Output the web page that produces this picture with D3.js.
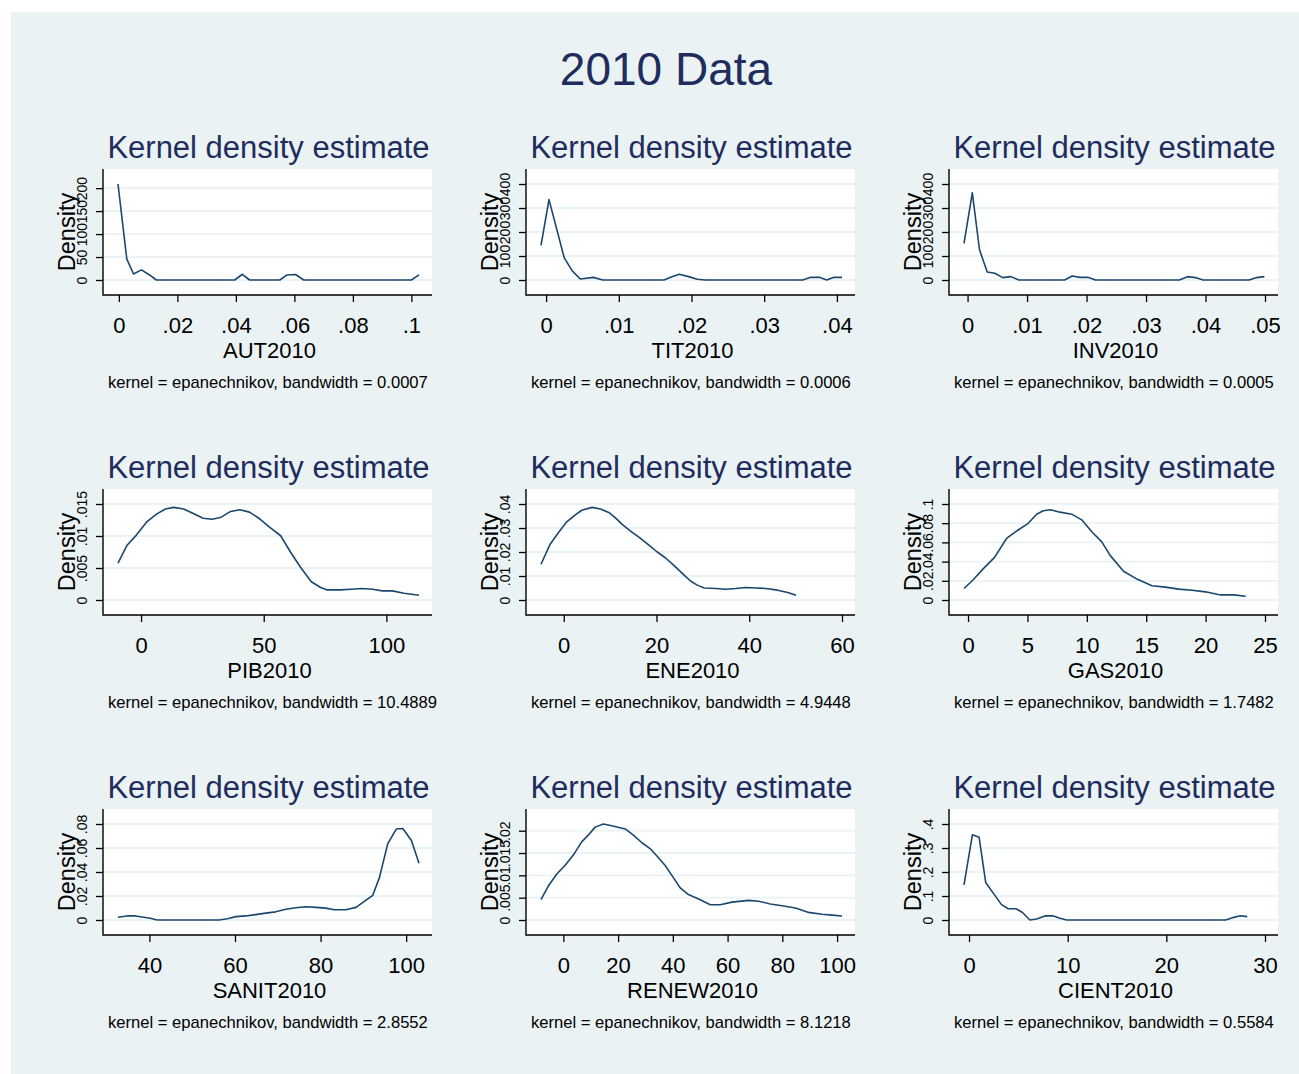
<!DOCTYPE html>
<html>
<head>
<meta charset="utf-8">
<script src="https://cdn.jsdelivr.net/npm/d3@7"></script>
<style>
  body { margin: 0; background: #fff; }
  svg { display: block; font-family: "Liberation Sans", Arial, Helvetica, sans-serif; }
</style>
</head>
<body>
<svg width="1299" height="1074"></svg>
<script>
// kernel density curves: [x, density]
const AUT2010 = [[-0.0003, 209], [0.0027, 46], [0.005, 13], [0.0077, 22], [0.0105, 11], [0.0128, 0],
  [0.0396, 0], [0.0422, 12.5], [0.0447, 0], [0.055, 0], [0.0575, 11], [0.0604, 12], [0.0632, 0],
  [0.1, 0], [0.1026, 11]];
const TIT2010 = [[-0.0007, 144], [0.0004, 335], [0.0025, 92], [0.0036, 38], [0.0047, 4], [0.0065, 11],
  [0.0078, 0], [0.0162, 0], [0.0173, 14], [0.0183, 24], [0.0196, 14], [0.0208, 3], [0.0219, 0],
  [0.0353, 0], [0.0364, 11], [0.0376, 11], [0.0386, 0], [0.0396, 11], [0.0407, 11]];
const INV2010 = [[-0.0006, 153], [0.0008, 363], [0.002, 127], [0.0033, 33], [0.0046, 28], [0.0059, 10],
  [0.0073, 14], [0.0086, 0], [0.0163, 0], [0.0176, 17], [0.0189, 11], [0.0202, 11], [0.0215, 0],
  [0.0356, 0], [0.037, 14], [0.0383, 10], [0.0396, 0], [0.0473, 0], [0.0486, 10], [0.0499, 14]];
const PIB2010 = [[-9.4, 0.00576], [-5.7, 0.00856], [-1.9, 0.01014], [2.2, 0.01215], [6.3, 0.01342],
  [9.9, 0.01421], [13.3, 0.01447], [17.4, 0.01421], [21.5, 0.01347], [25.3, 0.01278], [29.0, 0.01262],
  [32.7, 0.01294], [36.5, 0.01384], [40.3, 0.0141], [44.2, 0.01373], [48.0, 0.01278], [52.1, 0.01146],
  [56.9, 0.01004], [60.9, 0.0075], [65.0, 0.00512], [69.4, 0.00285], [73.2, 0.00195], [75.9, 0.00158],
  [81.4, 0.00158], [85.4, 0.00169], [90.2, 0.0018], [94.3, 0.00169], [98.4, 0.00143], [102.4, 0.00143],
  [107.2, 0.00106], [113.3, 0.00074]];
const ENE2010 = [[-4.9, 0.0149], [-3.0, 0.023], [-1.2, 0.0279], [0.65, 0.0326], [2.5, 0.0355], [3.9, 0.0374],
  [6.1, 0.0386], [7.9, 0.0379], [9.7, 0.0365], [11.1, 0.0343], [12.6, 0.0315], [14.4, 0.0287],
  [16.5, 0.0258], [18.3, 0.023], [20.1, 0.0201], [21.9, 0.0176], [24.1, 0.0138], [25.9, 0.0105],
  [27.4, 0.0078], [28.8, 0.0062], [30.3, 0.005], [32.8, 0.0048], [34.9, 0.0045], [37.1, 0.0048],
  [39.3, 0.0052], [41.4, 0.005], [43.6, 0.0048], [46.1, 0.0041], [48.3, 0.0031], [50.1, 0.002]];
const GAS2010 = [[-0.34, 0.012], [0.42, 0.0208], [1.27, 0.0324], [2.25, 0.0447], [3.24, 0.0641],
  [4.22, 0.0729], [5.07, 0.0799], [5.77, 0.0894], [6.33, 0.093], [6.95, 0.094], [7.74, 0.0915],
  [8.73, 0.0894], [9.57, 0.0835], [10.42, 0.0711], [11.26, 0.0606], [11.96, 0.0465], [13.09, 0.0299],
  [14.22, 0.0218], [15.48, 0.0148], [16.61, 0.0134], [17.74, 0.0113], [18.86, 0.0102], [19.99, 0.0085],
  [21.26, 0.0053], [22.38, 0.0053], [23.37, 0.0039]];
const SANIT2010 = [[32.66, 0.0023], [34.8, 0.0034], [36.7, 0.0034], [38.7, 0.0023], [40.2, 0.0014],
  [41.8, 0], [56.3, 0], [58.2, 0.0011], [60.2, 0.0028], [62.5, 0.0034], [64.8, 0.0045], [67.2, 0.0057],
  [69.5, 0.0068], [71.9, 0.009], [74.2, 0.0102], [76.6, 0.011], [78.9, 0.0105], [81.2, 0.0099],
  [83.2, 0.0085], [85.9, 0.0085], [88.3, 0.0105], [90.2, 0.0155], [92.2, 0.0206], [93.75, 0.0353],
  [95.7, 0.0636], [97.7, 0.0758], [99.2, 0.0763], [101.2, 0.0664], [103.0, 0.0472]];
const RENEW2010 = [[-8.17, 0.00456], [-5.5, 0.0076], [-2.4, 0.0103], [0.6, 0.0122], [3.7, 0.0146],
  [6.7, 0.0175], [9.1, 0.019], [11.6, 0.0208], [14.6, 0.0215], [17.7, 0.0211], [22.6, 0.0204],
  [25.6, 0.019], [28.7, 0.0173], [31.7, 0.016], [34.1, 0.0144], [37.2, 0.0122], [40.2, 0.0095],
  [42.7, 0.0072], [45.7, 0.0057], [49.4, 0.0047], [53.7, 0.0034], [57.3, 0.0034], [61.6, 0.004],
  [67.7, 0.0044], [71.3, 0.0042], [75.6, 0.0036], [79.9, 0.0032], [84.8, 0.0027], [89.6, 0.0017],
  [94.5, 0.0013], [98.2, 0.0011], [101.8, 0.0009]];
const CIENT2010 = [[-0.51, 0.146], [0.34, 0.355], [1.02, 0.345], [1.69, 0.156], [2.44, 0.113], [3.29, 0.064],
  [3.97, 0.047], [4.75, 0.047], [5.42, 0.031], [6.17, 0], [6.85, 0.004], [7.69, 0.017], [8.54, 0.017],
  [9.22, 0.007], [9.9, 0], [26.0, 0], [26.85, 0.011], [27.5, 0.018], [28.2, 0.014]];

// variable names, bandwidths and tick labels (Stata style, no leading zero)
const variables = ["AUT2010", "TIT2010", "INV2010", "PIB2010", "ENE2010", "GAS2010", "SANIT2010", "RENEW2010", "CIENT2010"];
const bandwidths = ["0.0007", "0.0006", "0.0005", "10.4889", "4.9448", "1.7482", "2.8552", "8.1218", "0.5584"];
const xTickLabels = [
  ["0", ".02", ".04", ".06", ".08", ".1"],
  ["0", ".01", ".02", ".03", ".04"],
  ["0", ".01", ".02", ".03", ".04", ".05"],
  ["0", "50", "100"],
  ["0", "20", "40", "60"],
  ["0", "5", "10", "15", "20", "25"],
  ["40", "60", "80", "100"],
  ["0", "20", "40", "60", "80", "100"],
  ["0", "10", "20", "30"],
];
const yTickLabels = [
  ["0", "50", "100", "150", "200"],
  ["0", "100", "200", "300", "400"],
  ["0", "100", "200", "300", "400"],
  ["0", ".005", ".01", ".015"],
  ["0", ".01", ".02", ".03", ".04"],
  ["0", ".02", ".04", ".06", ".08", ".1"],
  ["0", ".02", ".04", ".06", ".08"],
  ["0", ".005", ".01", ".015", ".02"],
  ["0", ".1", ".2", ".3", ".4"],
];
const series = [AUT2010, TIT2010, INV2010, PIB2010, ENE2010, GAS2010, SANIT2010, RENEW2010, CIENT2010];

const BG = "#eaf2f3";
const LINE_COLOR = "#1a476f";
const TITLE_COLOR = "#1e2d5e";

// panel frame geometry
const PW = 329, PH = 126;
const colX = [103, 526, 949];
const rowY = [169, 489, 809];
const pad = { left: 15, right: 13, top: 15, bottom: 15 };

let svg = d3.select("svg");

svg.append("rect")
  .attr("x", 11).attr("y", 12)
  .attr("width", 1299 - 11).attr("height", 1074 - 12)
  .attr("fill", BG);

svg.append("text")
  .attr("x", 666).attr("y", 85)
  .attr("text-anchor", "middle")
  .attr("font-size", 46)
  .attr("fill", TITLE_COLOR)
  .text("2010 Data");

series.forEach((data, i) => {
  const fx = colX[i % 3], fy = rowY[Math.floor(i / 3)];
  const xt = xTickLabels[i].map((s) => +s);
  const yt = yTickLabels[i].map((s) => +s);

  const x = d3.scaleLinear()
    .domain(d3.extent([...data.map((d) => d[0]), ...xt]))
    .range([pad.left, PW - pad.right]);
  const y = d3.scaleLinear()
    .domain([0, d3.max([...data.map((d) => d[1]), ...yt])])
    .range([PH - pad.bottom, pad.top]);

  const g = svg.append("g").attr("transform", `translate(${fx},${fy})`);

  // plot region
  g.append("rect").attr("width", PW).attr("height", PH).attr("fill", "white");

  // gridlines
  g.selectAll(".grid")
    .data(yt)
    .enter()
    .append("line")
    .attr("class", "grid")
    .attr("x1", 0).attr("x2", PW)
    .attr("y1", (d) => y(d)).attr("y2", (d) => y(d))
    .attr("stroke", BG)
    .attr("stroke-width", 1.8);

  // density curve
  g.append("path")
    .datum(data)
    .attr("fill", "none")
    .attr("stroke", LINE_COLOR)
    .attr("stroke-width", 1.6)
    .attr("stroke-linejoin", "round")
    .attr("d", d3.line().x((d) => x(d[0])).y((d) => y(d[1])));

  // y axis
  const yAxis = g.append("g")
    .call(d3.axisLeft(y).tickValues(yt).tickFormat((d, j) => yTickLabels[i][j]).tickSize(7));
  yAxis.select(".domain").remove();
  yAxis.selectAll("line").attr("stroke", "#000").attr("stroke-width", 1.3);
  yAxis.selectAll("text")
    .attr("x", null).attr("dy", null)
    .attr("text-anchor", "middle")
    .attr("transform", "translate(-16,0) rotate(-90)")
    .attr("font-size", 14)
    .attr("font-family", null)
    .attr("fill", "#000");

  // x axis
  const xAxis = g.append("g")
    .attr("transform", `translate(0,${PH})`)
    .call(d3.axisBottom(x).tickValues(xt).tickFormat((d, j) => xTickLabels[i][j]).tickSize(7));
  xAxis.select(".domain").remove();
  xAxis.selectAll("line").attr("stroke", "#000").attr("stroke-width", 1.3);
  xAxis.selectAll("text")
    .attr("y", 38).attr("dy", null)
    .attr("font-size", 22)
    .attr("font-family", null)
    .attr("fill", "#000");

  // axis lines along the frame
  g.append("path")
    .attr("d", `M0,0V${PH}H${PW}`)
    .attr("fill", "none")
    .attr("stroke", "#000")
    .attr("stroke-width", 1.4);

  // titles and note
  g.append("text")
    .attr("x", PW / 2 + 1).attr("y", -11)
    .attr("text-anchor", "middle")
    .attr("font-size", 31)
    .attr("fill", TITLE_COLOR)
    .text("Kernel density estimate");

  g.append("text")
    .attr("transform", `translate(-28,${PH / 2}) rotate(-90)`)
    .attr("text-anchor", "middle")
    .attr("font-size", 23.5)
    .text("Density");

  g.append("text")
    .attr("x", PW / 2 + 2).attr("y", PH + 63)
    .attr("text-anchor", "middle")
    .attr("font-size", 22)
    .text(variables[i]);

  g.append("text")
    .attr("x", 5).attr("y", PH + 93)
    .attr("font-size", 16.6)
    .text(`kernel = epanechnikov, bandwidth = ${bandwidths[i]}`);
});
</script>
</body>
</html>
